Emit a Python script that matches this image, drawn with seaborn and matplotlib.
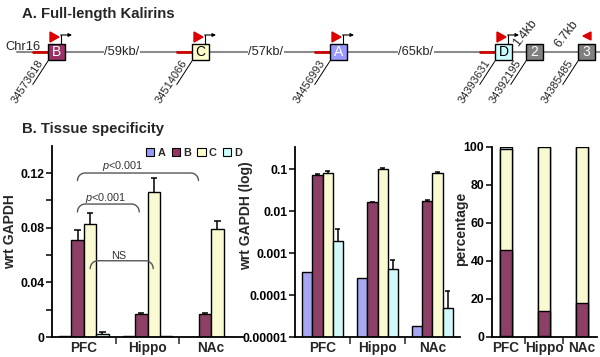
import numpy as np
import pandas as pd
import matplotlib
matplotlib.use("Agg")
import matplotlib.pyplot as plt
from matplotlib.patches import Rectangle, Polygon, Patch
from matplotlib.ticker import FixedLocator
import seaborn as sns

# ---------------- data ----------------
regions = ["PFC", "Hippo", "NAc"]
isoforms = ["A", "B", "C", "D"]
iso_colors = ["#9999FF", "#993366", "#FFFFCC", "#CCFFFF"]

# linear expression (wrt GAPDH)
lin_A = [0.0005, 0.0005, 0.0]
lin_B = [0.071, 0.0166, 0.017]
lin_C = [0.083, 0.106, 0.079]
lin_D = [0.002, 0.0005, 0.0]
lin_err_A = [0.0, 0.0, 0.0]
lin_err_B = [0.007, 0.0012, 0.0007]
lin_err_C = [0.008, 0.010, 0.006]
lin_err_D = [0.002, 0.0, 0.0]

# log expression
log_A = [3.5e-4, 2.6e-4, 1.8e-5]
log_B = [0.074, 0.0163, 0.0177]
log_C = [0.083, 0.105, 0.083]
log_D = [0.0020, 0.00041, 0.00005]
log_err_A = [0.0, 0.0, 0.0]
log_err_B = [0.003, 0.0006, 0.0006]
log_err_C = [0.009, 0.005, 0.002]
log_err_D = [0.0018, 0.00028, 0.000075]

# percentage composition
pct_A = [0.2, 0.2, 0.0]
pct_B = [45.5, 13.5, 17.7]
pct_C = [53.0, 86.0, 82.3]
pct_D = [1.3, 0.3, 0.0]

lin_ticks = [0, 0.04, 0.08, 0.12]
lin_tick_labels = ["0", "0.04", "0.08", "0.12"]
log_ticks = [1e-5, 1e-4, 1e-3, 1e-2, 1e-1]
log_tick_labels = ["0.00001", "0.0001", "0.001", "0.01", "0.1"]
pct_ticks = [0, 20, 40, 60, 80, 100]

# diagram content
exon_labels = ["B", "C", "A", "D", "2", "3"]
exon_coords = ["34573618", "34514066", "34456993", "34393631", "34392195", "34385485"]
exon_fc = ["#993366", "#FFFFCC", "#9999FF", "#CCFFFF", "#808080", "#808080"]
exon_tc = ["white", "black", "white", "black", "white", "white"]
gap_labels = ["/59kb/", "/57kb/", "/65kb/"]
small_gaps = ["1.4kb", "6.7kb"]

# ---------------- style ----------------
sns.set_theme(style="ticks")
plt.rcParams["font.family"] = ["Liberation Sans", "DejaVu Sans"]
plt.rcParams["mathtext.fontset"] = "custom"
plt.rcParams["mathtext.it"] = "Liberation Sans:italic"
plt.rcParams["mathtext.rm"] = "Liberation Sans"

W, H = 600, 357
fig = plt.figure(figsize=(6.0, 3.57), dpi=100)

def add_ax(l, t, r, b):
    return fig.add_axes([l / W, 1 - b / H, (r - l) / W, (b - t) / H])

# ---------------- diagram (pixel coordinates) ----------------
ax0 = add_ax(0, 0, W, H)
ax0.set_xlim(0, W)
ax0.set_ylim(H, 0)
ax0.axis("off")

ax0.text(22, 14, "A. Full-length Kalirins", fontsize=10.7, fontweight="bold", va="center", ha="left")
ax0.text(22, 129, "B. Tissue specificity", fontsize=10.7, fontweight="bold", va="center", ha="left")

ly = 52
ax0.plot([17, 600], [ly, ly], color="#8c8c8c", lw=1.5, zorder=1)
ax0.text(5, 46.5, "Chr16", fontsize=9.3, va="center", ha="left")

box_left = [48, 192, 330, 495, 526, 578]
bw, btop, bbot = 17, 44, 60
promoter = [True, True, True, True, False, False]
for i, x in enumerate(box_left):
    if promoter[i]:
        ax0.plot([x - 15, x], [ly, ly], color="#cc0000", lw=2, zorder=2)
        ax0.add_patch(Polygon([[x + 2, 32], [x + 2, 42], [x + 11, 37]], closed=True,
                              facecolor="#dd0000", edgecolor="#dd0000", zorder=3))
        ax0.plot([x + 13, x + 13], [btop, 35], color="black", lw=0.8, zorder=3)
        ax0.annotate("", xy=(x + 24, 35), xytext=(x + 12.6, 35),
                     arrowprops=dict(arrowstyle="-|>", lw=0.8, color="black",
                                     mutation_scale=5, shrinkA=0, shrinkB=0), zorder=3)
    ax0.add_patch(Rectangle((x, btop), bw, bbot - btop, facecolor=exon_fc[i],
                            edgecolor="black", lw=1, zorder=4))
    ax0.text(x + bw / 2, (btop + bbot) / 2 + 0.5, exon_labels[i], fontsize=10,
             color=exon_tc[i], ha="center", va="center", zorder=5)
    # coordinate label with slanted underline
    ang = np.deg2rad(57)
    ux, uy = np.cos(ang), -np.sin(ang)
    cx, cy = x, bbot + 1
    ax0.plot([cx, cx - 28 * ux], [cy, cy - 28 * uy], color="black", lw=0.7, zorder=3)
    ax0.text(cx - 3 * ux - 1, cy - 3 * uy, exon_coords[i], fontsize=8, rotation=57,
             rotation_mode="anchor", ha="right", va="bottom", zorder=5)

# flag on exon 3 pointing left
x3 = box_left[5]
ax0.add_patch(Polygon([[x3 + 13, 32], [x3 + 13, 40], [x3 + 5, 36]], closed=True,
                      facecolor="#dd0000", edgecolor="#dd0000", zorder=3))

for lab, xc in zip(gap_labels, [122, 266, 416]):
    ax0.text(xc, ly, lab, fontsize=9.3, ha="center", va="center", zorder=5,
             bbox=dict(facecolor="white", edgecolor="none", pad=0.5))
for lab, (xc, yc) in zip(small_gaps, [(525, 33), (566, 34)]):
    ax0.text(xc, yc, lab, fontsize=9, rotation=52, ha="center", va="center", zorder=5)

# ---------------- helpers ----------------
def long_df(cols):
    rows = []
    for iso, vals in zip(isoforms, cols):
        for r, v in zip(regions, vals):
            rows.append({"region": r, "isoform": iso, "value": v})
    return pd.DataFrame(rows)

def style_axis(ax):
    for s in ["top", "right"]:
        ax.spines[s].set_visible(False)
    for s in ["left", "bottom"]:
        ax.spines[s].set_color("black")
        ax.spines[s].set_linewidth(1.3)
    ax.tick_params(axis="y", which="both", direction="out", length=4, width=1.1,
                   colors="black", labelsize=8.8, pad=1.5)
    ax.tick_params(axis="x", which="major", length=0, labelsize=9.8, pad=3)
    ax.tick_params(axis="x", which="minor", length=5, width=1.1, direction="out")
    ax.xaxis.set_minor_locator(FixedLocator([0.5, 1.5]))
    for t in ax.get_xticklabels() + ax.get_yticklabels():
        t.set_fontweight("bold")
    ax.set_xlabel("")
    ax.patch.set_alpha(0)

def add_err(ax, errs, capw):
    for cont, err in zip(ax.containers, errs):
        for bar, e in zip(cont, err):
            if e <= 0:
                continue
            xc = bar.get_x() + bar.get_width() / 2
            top = bar.get_y() + bar.get_height()
            ax.vlines(xc, top, top + e, color="black", lw=1.1, zorder=5)
            ax.hlines(top + e, xc - capw, xc + capw, color="black", lw=1.1, zorder=5)

pal = dict(zip(isoforms, iso_colors))

# ---------------- chart 1: linear ----------------
ax1 = add_ax(52, 145.7, 243, 337)
df1 = long_df([lin_A, lin_B, lin_C, lin_D])
sns.barplot(data=df1, x="region", y="value", hue="isoform", order=regions,
            hue_order=isoforms, palette=pal, width=0.78, errorbar=None,
            edgecolor="black", linewidth=1, legend=False, ax=ax1)
add_err(ax1, [lin_err_A, lin_err_B, lin_err_C, lin_err_D], 0.05)
ax1.set_xlim(-0.5, 2.5)
ax1.set_ylim(0, 0.14)
ax1.set_yticks(lin_ticks, lin_tick_labels)
ax1.yaxis.set_minor_locator(FixedLocator([0.02, 0.06, 0.10]))
ax1.set_ylabel("wrt GAPDH", fontsize=10, fontweight="bold")
ax1.yaxis.set_label_coords(-0.183, 0.55)
style_axis(ax1)

handles = [Patch(facecolor=c, edgecolor="black", lw=0.8, label=k) for k, c in zip(isoforms, iso_colors)]
ax1.legend(handles=handles, ncol=4, loc="upper right", bbox_to_anchor=(1.02, 1.01),
           frameon=False, handlelength=0.75, handleheight=0.75, handletextpad=0.3,
           columnspacing=0.6, borderaxespad=0, prop={"size": 7.8, "weight": "bold"})

def bracket(ax, x0, x1, y, d, r):
    t = np.linspace(0, np.pi / 2, 12)
    lx = x0 + r * (1 - np.cos(t)); ly_ = y - d * (1 - np.sin(t))
    rx = x1 - r * (1 - np.cos(t[::-1])); ry = y - d * (1 - np.sin(t[::-1]))
    xs = np.concatenate([lx, rx]); ys = np.concatenate([ly_, ry])
    ax.plot(xs, ys, color="#555555", lw=1, zorder=6, clip_on=False)

bracket(ax1, -0.1, 1.8, 0.120, 0.0055, 0.12)
bracket(ax1, -0.1, 0.87, 0.0973, 0.0058, 0.12)
bracket(ax1, 0.1, 1.09, 0.0558, 0.0058, 0.12)
ax1.text(0.61, 0.1255, "$p$<0.001", fontsize=7.8, ha="center", va="center", color="#333333")
ax1.text(0.34, 0.1015, "$p$<0.001", fontsize=7.8, ha="center", va="center", color="#333333")
ax1.text(0.54, 0.0595, "NS", fontsize=7.8, ha="center", va="center", color="#333333")

# ---------------- chart 2: log ----------------
ax2 = add_ax(295, 146.7, 460, 337)
ax2.set_yscale("log")
df2 = long_df([log_A, log_B, log_C, log_D])
sns.barplot(data=df2, x="region", y="value", hue="isoform", order=regions,
            hue_order=isoforms, palette=pal, width=0.73, errorbar=None,
            edgecolor="black", linewidth=1, legend=False, ax=ax2)
add_err(ax2, [log_err_A, log_err_B, log_err_C, log_err_D], 0.045)
ax2.set_xlim(-0.5, 2.5)
ax2.set_ylim(1e-5, 0.348)
ax2.set_yticks(log_ticks, log_tick_labels)
ax2.yaxis.set_minor_locator(FixedLocator([]))
ax2.set_ylabel("wrt GAPDH (log)", fontsize=10, fontweight="bold")
ax2.yaxis.set_label_coords(-0.255, 0.64)
style_axis(ax2)

# ---------------- chart 3: percentage (stacked) ----------------
ax3 = add_ax(492, 146.7, 597, 336.7)
cum_B = np.array(pct_A) + np.array(pct_B)
cum_C = cum_B + np.array(pct_C)
cum_D = cum_C + np.array(pct_D)
for vals, col in zip([cum_D, cum_C, cum_B, pct_A], iso_colors[::-1]):
    sns.barplot(x=regions, y=list(vals), order=regions, color=col, width=0.33,
                edgecolor="black", linewidth=1, errorbar=None, ax=ax3)
ax3.set_xlim(-0.37, 2.39)
ax3.set_ylim(0, 100)
ax3.set_yticks(pct_ticks, [str(v) for v in pct_ticks])
ax3.set_ylabel("percentage", fontsize=10, fontweight="bold")
ax3.yaxis.set_label_coords(-0.229, 0.567)
style_axis(ax3)

fig.savefig("out.png", dpi=100)
